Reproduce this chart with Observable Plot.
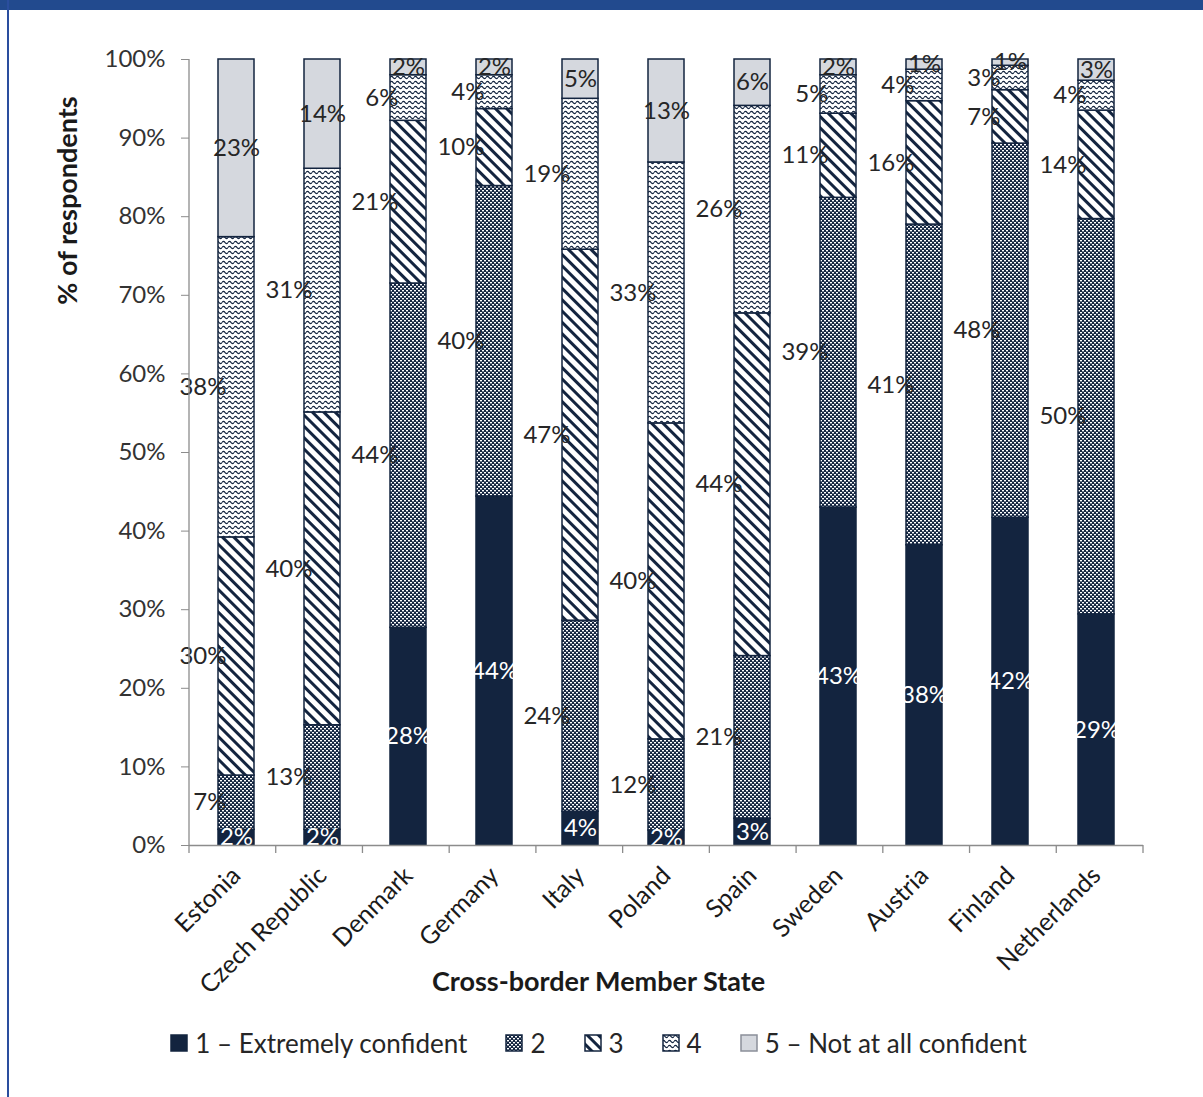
<!DOCTYPE html>
<html>
<head>
<meta charset="utf-8">
<script src="https://cdn.jsdelivr.net/npm/d3@7"></script>
<script src="https://cdn.jsdelivr.net/npm/@observablehq/plot@0.6"></script>
<style>
  body { margin: 0; background: #fff; font-family: Lato, "Open Sans", sans-serif; }
  #wrap { position: relative; width: 1203px; height: 1097px; overflow: hidden; background: #fff; }
  #topbar { position: absolute; left: 0; top: 0; width: 1203px; height: 10px; background: #224a8e; }
  #leftbar { position: absolute; left: 7px; top: 0; width: 2px; height: 1097px; background: #2a4e9e; }
  #chart { position: absolute; left: 0; top: 0; }
  #legend { position: absolute; left: 0; top: 1027px; width: 1197px; display: flex; justify-content: center;
            align-items: center; font-size: 26px; color: #262626; }
  .item { display: flex; align-items: center; margin: 0 19px; }
  .item svg { margin-right: 7px; }
</style>
</head>
<body>
<div id="wrap">
  <div id="chart"></div>
  <div id="topbar"></div>
  <div id="leftbar"></div>
  <div id="legend"></div>
</div>
<script>
// ---- Data ----
const countries = ["Estonia", "Czech Republic", "Denmark", "Germany", "Italy", "Poland", "Spain", "Sweden", "Austria", "Finland", "Netherlands"];
const levels = ["1 – Extremely confident", "2", "3", "4", "5 – Not at all confident"];
const level1 = [2.0, 2.0, 27.7, 44.4, 4.3, 1.9, 3.4, 43.0, 38.2, 41.7, 29.4];
const level2 = [6.9, 13.3, 43.8, 39.5, 24.3, 11.6, 20.7, 39.4, 40.8, 47.6, 50.3];
const level3 = [30.3, 39.8, 20.7, 9.8, 47.2, 40.2, 43.6, 10.7, 15.7, 6.8, 13.8];
const level4 = [38.2, 31.0, 5.8, 4.3, 19.2, 33.2, 26.4, 4.9, 4.0, 3.1, 3.8];
const level5 = [22.6, 13.9, 2.0, 2.0, 5.0, 13.1, 5.9, 2.0, 1.3, 0.8, 2.7];
const yTicks = [0, 10, 20, 30, 40, 50, 60, 70, 80, 90, 100];
const xTitle = "Cross-border Member State";
const yTitle = "% of respondents";

const series = [level1, level2, level3, level4, level5];
const rows = [];
countries.forEach((c, i) => series.forEach((s, j) => rows.push({country: c, level: levels[j], li: j, value: s[i]})));

const navy = "#13243f";
const fills = [navy, "url(#pat2)", "url(#pat3)", "url(#pat4)", "#d5d8de"];
const pct = v => Math.round(v) + "%";
const font = "Lato, 'Open Sans', sans-serif";

const chart = Plot.plot({
  width: 1203,
  height: 1010,
  marginTop: 59,
  marginBottom: 165,
  marginLeft: 189,
  marginRight: 60,
  style: {fontFamily: font, fontSize: "24px", color: "#262626", background: "transparent"},
  x: {domain: countries, paddingInner: 0.585, paddingOuter: 0.2925, label: null},
  y: {domain: [0, 100], label: null},
  color: {domain: levels, range: fills},
  marks: [
    Plot.barY(rows, Plot.stackY({x: "country", y: "value", z: "level", fill: "level", stroke: navy, strokeWidth: 1.5})),
    // level 1 labels: white, centered
    Plot.text(rows, Plot.stackY({x: "country", y: "value", z: "level",
      text: d => d.li === 0 ? pct(d.value) : "", fill: "white", fontSize: 24})),
    // level 2-4 labels: to the left of the bar
    Plot.text(rows, Plot.stackY({x: "country", y: "value", z: "level",
      text: d => (d.li >= 1 && d.li <= 3) ? pct(d.value) : "", fill: "#262626", fontSize: 24,
      textAnchor: "end", dx: -10})),
    // level 5 labels: centered
    Plot.text(rows, Plot.stackY({x: "country", y: "value", z: "level",
      text: d => d.li === 4 ? pct(d.value) : "", fill: "#262626", fontSize: 24})),
    Plot.ruleY([0], {stroke: "#8c8c8c", strokeWidth: 1.3}),
    Plot.axisY({ticks: yTicks, tickFormat: d => d + "%", tickSize: 8, tickPadding: 16,
      stroke: "#8c8c8c", fill: "#333", fontSize: 24, label: null}),
    Plot.axisX({tickRotate: -45, tickSize: 0, tickPadding: 26, fill: "#1a1a1a", fontSize: 25, label: null}),
    Plot.text([xTitle], {frameAnchor: "bottom", dy: 145, dx: -68, fontWeight: "bold", fontSize: 27, fill: "#1a1a1a"}),
    Plot.text([yTitle], {frameAnchor: "top-left", textAnchor: "middle", lineAnchor: "middle", rotate: -90,
      dx: -121, dy: 141, fontWeight: "bold", fontSize: 27, fill: "#1a1a1a"})
  ]
});

document.getElementById("chart").appendChild(chart);

// ---- SVG patterns ----
const svgSel = d3.select(chart);
const defs = svgSel.insert("defs", ":first-child");
const p2 = defs.append("pattern").attr("id", "pat2").attr("patternUnits", "userSpaceOnUse").attr("width", 4).attr("height", 4);
p2.append("rect").attr("width", 4).attr("height", 4).attr("fill", navy);
p2.append("rect").attr("x", 0).attr("y", 0).attr("width", 2).attr("height", 1.4).attr("fill", "#fff");
p2.append("rect").attr("x", 2).attr("y", 2).attr("width", 2).attr("height", 1.4).attr("fill", "#fff");
const p3 = defs.append("pattern").attr("id", "pat3").attr("patternUnits", "userSpaceOnUse").attr("width", 8).attr("height", 8).attr("patternTransform", "rotate(-45)");
p3.append("rect").attr("width", 8).attr("height", 8).attr("fill", "#fff");
p3.append("rect").attr("x", 0).attr("width", 3).attr("height", 8).attr("fill", navy);
const p4 = defs.append("pattern").attr("id", "pat4").attr("patternUnits", "userSpaceOnUse").attr("width", 6).attr("height", 5);
p4.append("rect").attr("width", 6).attr("height", 5).attr("fill", "#fff");
p4.append("path").attr("d", "M0,2.5 Q1.5,0.3 3,2.5 T6,2.5").attr("fill", "none").attr("stroke", navy).attr("stroke-width", 1.3);

// ---- Excel-style axis line and category boundary ticks ----
const xs = chart.scale("x");
const ys = chart.scale("y");
const x0 = xs.range[0], x1 = xs.range[1];
const n = xs.domain.length;
const yb = ys.apply(0), yt = ys.apply(100);
const g = svgSel.append("g").attr("stroke", "#8c8c8c").attr("stroke-width", 1.3);
g.append("line").attr("x1", x0).attr("x2", x0).attr("y1", yb).attr("y2", yt);
for (let i = 0; i <= n; i++) {
  const xx = x0 + i * (x1 - x0) / n;
  g.append("line").attr("x1", xx).attr("x2", xx).attr("y1", yb).attr("y2", yb + 8);
}

// ---- Legend ----
const legend = d3.select("#legend");
levels.forEach((lv, j) => {
  const it = legend.append("div").attr("class", "item");
  const s = it.append("svg").attr("width", 18).attr("height", 18);
  s.append("rect").attr("x", 1).attr("y", 1).attr("width", 16).attr("height", 16)
    .attr("fill", fills[j]).attr("stroke", j === 4 ? "#8a8f99" : navy).attr("stroke-width", 1.5);
  it.append("span").text(lv);
});
</script>
</body>
</html>
